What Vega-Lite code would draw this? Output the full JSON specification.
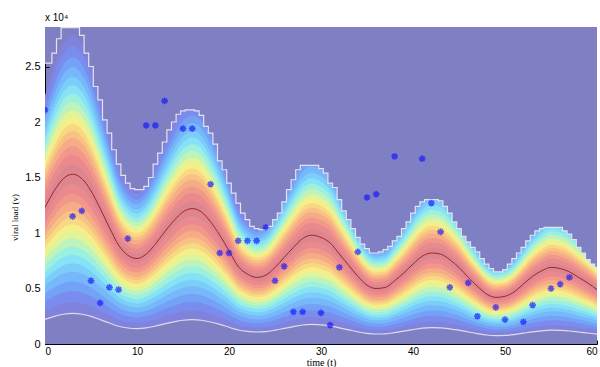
{
  "$schema": "https://vega.github.io/schema/vega-lite/v6.json",
  "width": 552,
  "height": 317,
  "autosize": {"type": "none"},
  "padding": {"left": 45, "top": 27, "right": 3, "bottom": 23},
  "background": "white",
  "title": {"text": "x 10⁴", "anchor": "start", "frame": "group", "offset": 4, "fontSize": 10, "fontWeight": "normal", "font": "Liberation Sans", "color": "#000"},
  "config": {
    "view": {"fill": "#7f7fc4", "stroke": null},
    "axis": {"grid": false, "domainColor": "#000", "tickColor": "#000", "labelColor": "#000", "labelFont": "Liberation Sans", "labelFontSize": 11, "titleFont": "Liberation Serif", "titleFontWeight": "normal", "titleColor": "#000", "titleFontSize": 10, "tickSize": -4}
  },
  "datasets": {
    "c": [
      {"t":0,"m":1.23},{"t":1,"m":1.38},{"t":2,"m":1.49},{"t":3,"m":1.53},{"t":4,"m":1.49},{"t":5,"m":1.38},
      {"t":6,"m":1.22},{"t":7,"m":1.05},{"t":8,"m":0.89},{"t":9,"m":0.80},{"t":10,"m":0.77},{"t":11,"m":0.81},
      {"t":12,"m":0.90},{"t":13,"m":1.01},{"t":14,"m":1.11},{"t":15,"m":1.19},{"t":16,"m":1.22},{"t":17,"m":1.19},
      {"t":18,"m":1.10},{"t":19,"m":0.98},{"t":20,"m":0.84},{"t":21,"m":0.70},{"t":22,"m":0.63},{"t":23,"m":0.60},
      {"t":24,"m":0.62},{"t":25,"m":0.69},{"t":26,"m":0.78},{"t":27,"m":0.87},{"t":28,"m":0.95},{"t":29,"m":0.98},
      {"t":30,"m":0.96},{"t":31,"m":0.91},{"t":32,"m":0.81},{"t":33,"m":0.71},{"t":34,"m":0.61},{"t":35,"m":0.53},
      {"t":36,"m":0.50},{"t":37,"m":0.51},{"t":38,"m":0.57},{"t":39,"m":0.64},{"t":40,"m":0.72},{"t":41,"m":0.79},
      {"t":42,"m":0.82},{"t":43,"m":0.81},{"t":44,"m":0.76},{"t":45,"m":0.69},{"t":46,"m":0.60},{"t":47,"m":0.52},
      {"t":48,"m":0.45},{"t":49,"m":0.42},{"t":50,"m":0.43},{"t":51,"m":0.47},{"t":52,"m":0.54},{"t":53,"m":0.61},
      {"t":54,"m":0.66},{"t":55,"m":0.69},{"t":56,"m":0.68},{"t":57,"m":0.65},{"t":58,"m":0.60},{"t":59,"m":0.55},
      {"t":60,"m":0.49}
    ],
    "b": [
      {"t":0,"B":2.53},{"t":0.5,"B":2.53},{"t":1,"B":2.62},{"t":1.5,"B":2.75},{"t":2,"B":2.85},{"t":2.5,"B":2.85},
      {"t":3,"B":2.85},{"t":3.5,"B":2.85},{"t":4,"B":2.78},{"t":4.5,"B":2.62},{"t":5,"B":2.5},{"t":5.5,"B":2.32},
      {"t":6,"B":2.2},{"t":6.5,"B":2.02},{"t":7,"B":1.9},{"t":7.5,"B":1.75},{"t":8,"B":1.62},{"t":8.5,"B":1.52},
      {"t":9,"B":1.45},{"t":9.5,"B":1.4},{"t":10,"B":1.39},{"t":10.5,"B":1.39},{"t":11,"B":1.42},{"t":11.5,"B":1.5},
      {"t":12,"B":1.62},{"t":12.5,"B":1.72},{"t":13,"B":1.82},{"t":13.5,"B":1.93},{"t":14,"B":2.0},{"t":14.5,"B":2.07},
      {"t":15,"B":2.1},{"t":15.5,"B":2.11},{"t":16,"B":2.11},{"t":16.5,"B":2.1},{"t":17,"B":2.06},{"t":17.5,"B":1.96},
      {"t":18,"B":1.9},{"t":18.5,"B":1.8},{"t":19,"B":1.65},{"t":19.5,"B":1.57},{"t":20,"B":1.45},{"t":20.5,"B":1.36},
      {"t":21,"B":1.27},{"t":21.5,"B":1.18},{"t":22,"B":1.12},{"t":22.5,"B":1.06},{"t":23,"B":1.04},{"t":23.5,"B":1.03},
      {"t":24,"B":1.03},{"t":24.5,"B":1.06},{"t":25,"B":1.12},{"t":25.5,"B":1.18},{"t":26,"B":1.28},{"t":26.5,"B":1.39},
      {"t":27,"B":1.48},{"t":27.5,"B":1.57},{"t":28,"B":1.61},{"t":28.5,"B":1.61},{"t":29,"B":1.61},{"t":29.5,"B":1.61},
      {"t":30,"B":1.58},{"t":30.5,"B":1.54},{"t":31,"B":1.45},{"t":31.5,"B":1.41},{"t":32,"B":1.3},{"t":32.5,"B":1.2},
      {"t":33,"B":1.12},{"t":33.5,"B":1.04},{"t":34,"B":0.96},{"t":34.5,"B":0.9},{"t":35,"B":0.86},{"t":35.5,"B":0.82},
      {"t":36,"B":0.82},{"t":36.5,"B":0.83},{"t":37,"B":0.85},{"t":37.5,"B":0.88},{"t":38,"B":0.93},{"t":38.5,"B":0.97},
      {"t":39,"B":1.04},{"t":39.5,"B":1.1},{"t":40,"B":1.18},{"t":40.5,"B":1.24},{"t":41,"B":1.28},{"t":41.5,"B":1.3},
      {"t":42,"B":1.3},{"t":42.5,"B":1.3},{"t":43,"B":1.29},{"t":43.5,"B":1.24},{"t":44,"B":1.18},{"t":44.5,"B":1.1},
      {"t":45,"B":1.04},{"t":45.5,"B":0.97},{"t":46,"B":0.92},{"t":46.5,"B":0.87},{"t":47,"B":0.83},{"t":47.5,"B":0.77},
      {"t":48,"B":0.72},{"t":48.5,"B":0.68},{"t":49,"B":0.65},{"t":49.5,"B":0.65},{"t":50,"B":0.67},{"t":50.5,"B":0.72},
      {"t":51,"B":0.77},{"t":51.5,"B":0.82},{"t":52,"B":0.87},{"t":52.5,"B":0.93},{"t":53,"B":0.98},{"t":53.5,"B":1.02},
      {"t":54,"B":1.04},{"t":54.5,"B":1.05},{"t":55,"B":1.05},{"t":55.5,"B":1.05},{"t":56,"B":1.05},{"t":56.5,"B":1.02},
      {"t":57,"B":0.99},{"t":57.5,"B":0.94},{"t":58,"B":0.87},{"t":58.5,"B":0.82},{"t":59,"B":0.76},{"t":59.5,"B":0.72},
      {"t":60,"B":0.69}
    ],
    "obs": [
      {"t":0,"v":2.11},{"t":3,"v":1.15},{"t":4,"v":1.2},{"t":5,"v":0.57},{"t":6,"v":0.37},{"t":7,"v":0.51},
      {"t":8,"v":0.49},{"t":9,"v":0.95},{"t":11,"v":1.97},{"t":12,"v":1.97},{"t":13,"v":2.19},{"t":15,"v":1.94},
      {"t":16,"v":1.94},{"t":18,"v":1.44},{"t":19,"v":0.82},{"t":20,"v":0.82},{"t":21,"v":0.93},{"t":22,"v":0.93},
      {"t":23,"v":0.93},{"t":24,"v":1.05},{"t":25,"v":0.57},{"t":26,"v":0.70},{"t":27,"v":0.29},{"t":28,"v":0.29},
      {"t":30,"v":0.28},{"t":31,"v":0.17},{"t":32,"v":0.69},{"t":34,"v":0.83},{"t":35,"v":1.32},{"t":36,"v":1.35},
      {"t":38,"v":1.69},{"t":41,"v":1.67},{"t":42,"v":1.27},{"t":43,"v":1.01},{"t":44,"v":0.51},{"t":46,"v":0.55},
      {"t":47,"v":0.25},{"t":49,"v":0.33},{"t":50,"v":0.22},{"t":52,"v":0.20},{"t":53,"v":0.35},{"t":55,"v":0.50},
      {"t":56,"v":0.54},{"t":57,"v":0.60}
    ]
  },
  "encoding": {
    "x": {"field": "t", "type": "quantitative", "scale": {"domain": [0, 60], "nice": false},
      "axis": {"values": [0,10,20,30,40,50,60], "title": "time (t)", "labelFontSize": 10, "labelPadding": 6, "titleY": 13, "titleBaseline": "top", "titleFontSize": 10}}
  },
  "layer": [
    {"data":{"name":"c"},"mark":{"type":"area","color":"#8082dc","interpolate":"monotone","clip":true},"encoding":{"y":{"field":"m","type":"quantitative","scale":{"domain":[0,1.5692],"nice":false},"axis":null}}},
    {"data":{"name":"c"},"mark":{"type":"area","color":"#7a8cee","interpolate":"monotone","clip":true},"encoding":{"y":{"field":"m","type":"quantitative","scale":{"domain":[0,1.6279],"nice":false},"axis":null}}},
    {"data":{"name":"c"},"mark":{"type":"area","color":"#74a2f6","interpolate":"monotone","clip":true},"encoding":{"y":{"field":"m","type":"quantitative","scale":{"domain":[0,1.6912],"nice":false},"axis":null}}},
    {"data":{"name":"c"},"mark":{"type":"area","color":"#76b8fa","interpolate":"monotone","clip":true},"encoding":{"y":{"field":"m","type":"quantitative","scale":{"domain":[0,1.7507],"nice":false},"axis":null}}},
    {"data":{"name":"c"},"mark":{"type":"area","color":"#7ccefa","interpolate":"monotone","clip":true},"encoding":{"y":{"field":"m","type":"quantitative","scale":{"domain":[0,1.8145],"nice":false},"axis":null}}},
    {"data":{"name":"c"},"mark":{"type":"area","color":"#86e2f4","interpolate":"monotone","clip":true},"encoding":{"y":{"field":"m","type":"quantitative","scale":{"domain":[0,1.8730],"nice":false},"axis":null}}},
    {"data":{"name":"c"},"mark":{"type":"area","color":"#9cf0e0","interpolate":"monotone","clip":true},"encoding":{"y":{"field":"m","type":"quantitative","scale":{"domain":[0,1.9355],"nice":false},"axis":null}}},
    {"data":{"name":"c"},"mark":{"type":"area","color":"#bef4bc","interpolate":"monotone","clip":true},"encoding":{"y":{"field":"m","type":"quantitative","scale":{"domain":[0,2.0022],"nice":false},"axis":null}}},
    {"data":{"name":"c"},"mark":{"type":"area","color":"#e0f49a","interpolate":"monotone","clip":true},"encoding":{"y":{"field":"m","type":"quantitative","scale":{"domain":[0,2.0738],"nice":false},"axis":null}}},
    {"data":{"name":"c"},"mark":{"type":"area","color":"#f6ee88","interpolate":"monotone","clip":true},"encoding":{"y":{"field":"m","type":"quantitative","scale":{"domain":[0,2.1374],"nice":false},"axis":null}}},
    {"data":{"name":"c"},"mark":{"type":"area","color":"#f8d884","interpolate":"monotone","clip":true},"encoding":{"y":{"field":"m","type":"quantitative","scale":{"domain":[0,2.2051],"nice":false},"axis":null}}},
    {"data":{"name":"c"},"mark":{"type":"area","color":"#f8c282","interpolate":"monotone","clip":true},"encoding":{"y":{"field":"m","type":"quantitative","scale":{"domain":[0,2.2771],"nice":false},"axis":null}}},
    {"data":{"name":"c"},"mark":{"type":"area","color":"#f6ac86","interpolate":"monotone","clip":true},"encoding":{"y":{"field":"m","type":"quantitative","scale":{"domain":[0,2.3541],"nice":false},"axis":null}}},
    {"data":{"name":"c"},"mark":{"type":"area","color":"#f2988a","interpolate":"monotone","clip":true},"encoding":{"y":{"field":"m","type":"quantitative","scale":{"domain":[0,2.4536],"nice":false},"axis":null}}},
    {"data":{"name":"c"},"mark":{"type":"area","color":"#ea8a8e","interpolate":"monotone","clip":true},"encoding":{"y":{"field":"m","type":"quantitative","scale":{"domain":[0,2.5619],"nice":false},"axis":null}}},
    {"data":{"name":"c"},"mark":{"type":"area","color":"#dc8690","interpolate":"monotone","clip":true},"encoding":{"y":{"field":"m","type":"quantitative","scale":{"domain":[0,2.7010],"nice":false},"axis":null}}},
    {"data":{"name":"c"},"mark":{"type":"area","color":"#ea8a8e","interpolate":"monotone","clip":true},"encoding":{"y":{"field":"m","type":"quantitative","scale":{"domain":[0,3.0299],"nice":false},"axis":null}}},
    {"data":{"name":"c"},"mark":{"type":"area","color":"#f2988a","interpolate":"monotone","clip":true},"encoding":{"y":{"field":"m","type":"quantitative","scale":{"domain":[0,3.2264],"nice":false},"axis":null}}},
    {"data":{"name":"c"},"mark":{"type":"area","color":"#f6ac86","interpolate":"monotone","clip":true},"encoding":{"y":{"field":"m","type":"quantitative","scale":{"domain":[0,3.4163],"nice":false},"axis":null}}},
    {"data":{"name":"c"},"mark":{"type":"area","color":"#f8c282","interpolate":"monotone","clip":true},"encoding":{"y":{"field":"m","type":"quantitative","scale":{"domain":[0,3.6299],"nice":false},"axis":null}}},
    {"data":{"name":"c"},"mark":{"type":"area","color":"#f8d884","interpolate":"monotone","clip":true},"encoding":{"y":{"field":"m","type":"quantitative","scale":{"domain":[0,3.8295],"nice":false},"axis":null}}},
    {"data":{"name":"c"},"mark":{"type":"area","color":"#f6ee88","interpolate":"monotone","clip":true},"encoding":{"y":{"field":"m","type":"quantitative","scale":{"domain":[0,4.0522],"nice":false},"axis":null}}},
    {"data":{"name":"c"},"mark":{"type":"area","color":"#e0f49a","interpolate":"monotone","clip":true},"encoding":{"y":{"field":"m","type":"quantitative","scale":{"domain":[0,4.3025],"nice":false},"axis":null}}},
    {"data":{"name":"c"},"mark":{"type":"area","color":"#bef4bc","interpolate":"monotone","clip":true},"encoding":{"y":{"field":"m","type":"quantitative","scale":{"domain":[0,4.5857],"nice":false},"axis":null}}},
    {"data":{"name":"c"},"mark":{"type":"area","color":"#9cf0e0","interpolate":"monotone","clip":true},"encoding":{"y":{"field":"m","type":"quantitative","scale":{"domain":[0,4.9791],"nice":false},"axis":null}}},
    {"data":{"name":"c"},"mark":{"type":"area","color":"#86e2f4","interpolate":"monotone","clip":true},"encoding":{"y":{"field":"m","type":"quantitative","scale":{"domain":[0,5.4462],"nice":false},"axis":null}}},
    {"data":{"name":"c"},"mark":{"type":"area","color":"#7ccefa","interpolate":"monotone","clip":true},"encoding":{"y":{"field":"m","type":"quantitative","scale":{"domain":[0,6.0101],"nice":false},"axis":null}}},
    {"data":{"name":"c"},"mark":{"type":"area","color":"#76b8fa","interpolate":"monotone","clip":true},"encoding":{"y":{"field":"m","type":"quantitative","scale":{"domain":[0,6.7042],"nice":false},"axis":null}}},
    {"data":{"name":"c"},"mark":{"type":"area","color":"#74a2f6","interpolate":"monotone","clip":true},"encoding":{"y":{"field":"m","type":"quantitative","scale":{"domain":[0,7.7482],"nice":false},"axis":null}}},
    {"data":{"name":"c"},"mark":{"type":"area","color":"#7a8cee","interpolate":"monotone","clip":true},"encoding":{"y":{"field":"m","type":"quantitative","scale":{"domain":[0,9.1774],"nice":false},"axis":null}}},
    {"data":{"name":"c"},"mark":{"type":"area","color":"#8082dc","interpolate":"monotone","clip":true},"encoding":{"y":{"field":"m","type":"quantitative","scale":{"domain":[0,11.6287],"nice":false},"axis":null}}},
    {"data":{"name":"c"},"mark":{"type":"area","color":"#7f7fc4","interpolate":"monotone","clip":true},"encoding":{"y":{"field":"m","type":"quantitative","scale":{"domain":[0,15.8667],"nice":false},"axis":null}}},
    {"data":{"name":"b"},"mark":{"type":"area","color":"#7f7fc4","interpolate":"step","clip":true},"encoding":{"y":{"field":"B","type":"quantitative","scale":{"domain":[0,2.856],"nice":false},"axis":null},"y2":{"datum":2.856}}},
    {"data":{"name":"b"},"mark":{"type":"line","color":"#e4e4ee","strokeWidth":1.2,"interpolate":"step","clip":true},"encoding":{"y":{"field":"B","type":"quantitative","scale":{"domain":[0,2.856],"nice":false},"axis":null}}},
    {"data":{"name":"c"},"mark":{"type":"line","color":"#dcdcec","strokeWidth":1.2,"interpolate":"monotone","clip":true},"encoding":{"y":{"field":"m","type":"quantitative","scale":{"domain":[0,15.8667],"nice":false},"axis":null}}},
    {"data":{"name":"c"},"mark":{"type":"line","color":"#a82222","strokeWidth":1,"interpolate":"monotone","clip":true},"encoding":{"y":{"field":"m","type":"quantitative","scale":{"domain":[0,2.856],"nice":false},"axis":{"values":[0,0.5,1,1.5,2,2.5],"format":"~g","title":"viral load (v)","labelPadding":9,"titleX":-26,"titleY":190,"titleFontSize":9}}}},
    {"data":{"name":"obs"},"mark":{"type":"point","shape":"M-1,0L1,0M0,-1L0,1M-0.7,-0.7L0.7,0.7M-0.7,0.7L0.7,-0.7","filled":false,"color":"#1010ff","strokeWidth":1.6,"size":45,"opacity":0.65,"clip":true},"encoding":{"y":{"field":"v","type":"quantitative","scale":{"domain":[0,2.856],"nice":false},"axis":null}}}
  ],
  "resolve": {"scale": {"y": "independent"}, "axis": {"y": "independent"}}
}
